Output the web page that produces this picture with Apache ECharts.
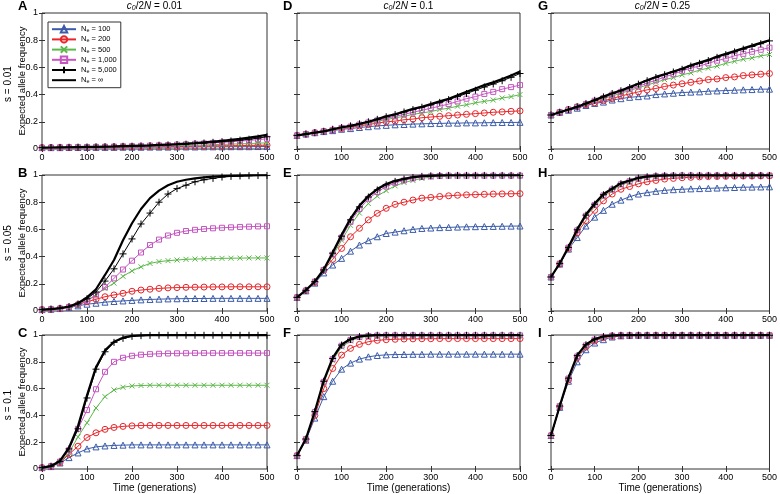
<!DOCTYPE html>
<html><head><meta charset="utf-8">
<script src="https://cdn.jsdelivr.net/npm/echarts@6/dist/echarts.min.js"></script>
<style>html,body{margin:0;padding:0;background:#fff}#c{width:780px;height:494px}</style>
</head><body><div id="c"></div>
<script>
// ---------- data ----------
const gens = [0,20,40,60,80,100,120,140,160,180,200,220,240,260,280,300,320,340,360,380,400,420,440,460,480,500];
const neLabels = ['100','200','500','1,000','5,000','\u221e'];
const seriesNames = ['Ne = 100','Ne = 200','Ne = 500','Ne = 1,000','Ne = 5,000','Ne = inf'];
const colParams = ['0.01','0.1','0.25'];
const rowParams = ['s = 0.01','s = 0.05','s = 0.1'];
const panelLetters = ['A','B','C','D','E','F','G','H','I'];
const xTicks = [0,100,200,300,400,500];
const yTicks = [0,0.2,0.4,0.6,0.8,1];

// Panel A: s=0.01, c0/2N=0.01
const A100 = [.010,.010,.010,.011,.011,.011,.012,.012,.012,.013,.013,.013,.014,.014,.014,.015,.015,.015,.016,.016,.016,.017,.017,.017,.018,.018];
const A200 = [.010,.010,.011,.011,.012,.012,.013,.014,.014,.015,.016,.016,.017,.018,.019,.019,.020,.021,.022,.023,.023,.024,.025,.026,.027,.028];
const A500 = [.010,.011,.012,.012,.013,.014,.015,.016,.017,.018,.019,.020,.021,.022,.023,.025,.026,.028,.030,.032,.034,.036,.038,.040,.043,.045];
const A1k  = [.010,.011,.012,.013,.014,.015,.016,.017,.018,.020,.021,.023,.025,.027,.029,.032,.035,.038,.041,.045,.049,.053,.058,.063,.069,.075];
const A5k  = [.010,.011,.012,.013,.014,.015,.016,.017,.018,.020,.021,.023,.025,.028,.030,.033,.036,.040,.044,.049,.054,.059,.065,.072,.080,.090];
const Ainf = [.010,.011,.012,.013,.014,.015,.016,.018,.019,.021,.023,.025,.027,.030,.033,.036,.040,.044,.049,.054,.060,.067,.074,.083,.093,.105];
// Panel B: s=0.05, c0/2N=0.01
const B100 = [.010,.013,.018,.026,.038,.050,.057,.065,.070,.074,.078,.082,.085,.087,.089,.090,.091,.092,.092,.093,.093,.093,.093,.093,.093,.093];
const B200 = [.010,.013,.018,.030,.048,.068,.086,.105,.118,.130,.145,.154,.160,.166,.170,.172,.174,.175,.176,.177,.177,.178,.178,.178,.178,.178];
const B500 = [.010,.013,.018,.026,.045,.080,.120,.165,.205,.255,.295,.325,.350,.363,.370,.375,.380,.382,.384,.386,.387,.388,.389,.390,.390,.390];
const B1k  = [.010,.013,.018,.028,.045,.075,.115,.175,.240,.305,.370,.430,.485,.525,.555,.575,.588,.597,.603,.608,.612,.615,.618,.620,.622,.623];
const B5k  = [.010,.014,.020,.031,.052,.090,.140,.220,.310,.420,.530,.640,.720,.800,.860,.900,.925,.950,.965,.975,.985,.990,.993,.995,.996,.997];
const Binf = [.010,.014,.021,.033,.058,.100,.160,.265,.375,.520,.645,.750,.830,.885,.925,.950,.965,.975,.983,.988,.992,.994,.996,.997,.998,.998];
// Panel C: s=0.1, c0/2N=0.01
const C100 = [.010,.018,.045,.085,.120,.150,.165,.172,.176,.178,.180,.180,.180,.180,.180,.180,.180,.180,.180,.180,.180,.180,.180,.180,.180,.180];
const C200 = [.010,.019,.048,.110,.170,.235,.270,.296,.310,.318,.322,.325,.325,.325,.325,.325,.325,.325,.325,.325,.325,.325,.325,.325,.325,.325];
const C500 = [.010,.020,.052,.120,.240,.345,.455,.540,.590,.610,.620,.623,.625,.625,.625,.625,.625,.625,.625,.625,.625,.625,.625,.625,.625,.625];
const C1k  = [.010,.020,.055,.140,.300,.440,.595,.725,.800,.830,.845,.853,.857,.860,.862,.863,.864,.865,.865,.865,.865,.865,.865,.865,.865,.865];
const C5k  = [.010,.021,.057,.150,.300,.530,.745,.875,.945,.975,.990,.995,.997,.998,.998,.998,.998,.998,.998,.998,.998,.998,.998,.998,.998,.998];
const Cinf = [.010,.022,.060,.160,.320,.550,.760,.885,.950,.980,.993,.997,.999,.999,.999,.999,.999,.999,.999,.999,.999,.999,.999,.999,.999,.999];
// Panel D: s=0.01, c0/2N=0.1
const D100 = [.100,.110,.120,.128,.135,.145,.150,.158,.164,.170,.174,.178,.180,.183,.185,.187,.188,.190,.190,.192,.192,.193,.194,.195,.195,.196];
const D200 = [.100,.110,.120,.130,.140,.150,.160,.170,.180,.190,.200,.205,.215,.220,.230,.235,.240,.245,.250,.255,.260,.265,.270,.273,.277,.280];
const D500 = [.100,.110,.120,.130,.140,.155,.165,.175,.190,.205,.215,.230,.240,.255,.265,.275,.290,.300,.315,.325,.340,.350,.360,.375,.385,.400];
const D1k  = [.100,.110,.120,.130,.140,.155,.165,.180,.195,.210,.225,.240,.255,.270,.285,.300,.315,.330,.350,.370,.385,.405,.420,.440,.455,.470];
const D5k  = [.100,.110,.120,.130,.145,.158,.170,.185,.200,.218,.237,.253,.272,.290,.307,.325,.343,.363,.385,.408,.432,.456,.478,.502,.527,.555];
const Dinf = [.100,.110,.120,.130,.145,.160,.170,.185,.200,.220,.240,.255,.275,.295,.310,.330,.350,.370,.395,.420,.445,.470,.490,.515,.540,.570];
// Panel E: s=0.05, c0/2N=0.1
const E100 = [.100,.148,.205,.280,.338,.387,.440,.485,.517,.546,.570,.580,.590,.600,.607,.610,.613,.615,.617,.619,.620,.621,.622,.623,.624,.625];
const E200 = [.100,.150,.210,.300,.380,.460,.546,.608,.670,.718,.755,.784,.800,.816,.830,.835,.842,.847,.851,.854,.856,.858,.860,.861,.862,.863];
const E500 = [.100,.150,.215,.300,.405,.520,.630,.720,.790,.845,.885,.920,.945,.960,.975,.985,.990,.992,.993,.994,.994,.994,.995,.995,.995,.995];
const E1k  = [.100,.150,.216,.302,.415,.540,.655,.750,.825,.875,.915,.942,.960,.975,.985,.990,.993,.995,.995,.995,.995,.995,.995,.995,.995,.995];
const E5k  = [.100,.152,.216,.302,.425,.550,.670,.765,.838,.890,.928,.953,.970,.982,.990,.994,.996,.997,.997,.997,.997,.997,.997,.997,.997,.997];
const Einf = [.100,.154,.217,.305,.430,.560,.680,.775,.845,.897,.934,.958,.972,.985,.992,.996,.997,.998,.998,.998,.998,.998,.998,.998,.998,.998];
// Panel F: s=0.1, c0/2N=0.1
const F100 = [.100,.215,.380,.540,.655,.745,.790,.820,.837,.847,.852,.854,.855,.856,.856,.857,.857,.857,.857,.857,.857,.857,.857,.857,.857,.857];
const F200 = [.100,.220,.400,.600,.750,.850,.900,.930,.950,.960,.965,.968,.970,.971,.972,.972,.973,.973,.973,.973,.973,.973,.973,.973,.973,.973];
const F500 = [.100,.222,.420,.640,.810,.910,.955,.980,.990,.993,.994,.995,.995,.995,.995,.995,.995,.995,.995,.995,.995,.995,.995,.995,.995,.995];
const F1k  = [.100,.223,.425,.650,.820,.920,.963,.985,.993,.996,.997,.997,.997,.997,.997,.997,.997,.997,.997,.997,.997,.997,.997,.997,.997,.997];
const F5k  = [.100,.224,.428,.655,.825,.925,.967,.988,.995,.998,.998,.998,.998,.998,.998,.998,.998,.998,.998,.998,.998,.998,.998,.998,.998,.998];
const Finf = [.100,.225,.430,.660,.830,.930,.970,.990,.997,.999,.999,.999,.999,.999,.999,.999,.999,.999,.999,.999,.999,.999,.999,.999,.999,.999];
// Panel G: s=0.01, c0/2N=0.25
const G100 = [.250,.270,.285,.300,.320,.335,.345,.360,.370,.380,.385,.390,.400,.405,.410,.415,.418,.420,.425,.427,.430,.432,.435,.437,.440,.440];
const G200 = [.250,.270,.290,.310,.325,.340,.355,.370,.390,.405,.420,.435,.445,.460,.470,.480,.490,.500,.510,.515,.525,.530,.540,.545,.550,.555];
const G500 = [.250,.270,.290,.310,.330,.350,.370,.390,.410,.430,.450,.470,.490,.510,.525,.545,.560,.580,.595,.610,.630,.645,.660,.670,.685,.695];
const G1k  = [.250,.270,.290,.310,.330,.355,.375,.400,.420,.440,.460,.485,.505,.530,.550,.575,.595,.610,.630,.650,.665,.685,.700,.715,.730,.745];
const G5k  = [.250,.270,.290,.310,.334,.358,.383,.408,.428,.452,.477,.502,.526,.546,.566,.586,.610,.630,.650,.674,.694,.714,.734,.754,.774,.795];
const Ginf = [.250,.270,.290,.310,.335,.360,.385,.410,.430,.455,.480,.505,.530,.550,.570,.590,.615,.635,.655,.680,.700,.720,.740,.760,.780,.800];
// Panel H: s=0.05, c0/2N=0.25
const H100 = [.250,.345,.455,.540,.625,.690,.740,.785,.815,.840,.860,.870,.880,.887,.892,.895,.898,.900,.902,.904,.906,.908,.910,.911,.912,.913];
const H200 = [.250,.345,.460,.575,.665,.740,.810,.860,.895,.915,.935,.950,.960,.970,.975,.980,.983,.986,.988,.989,.990,.991,.992,.992,.993,.993];
const H500 = [.250,.348,.464,.588,.693,.772,.842,.886,.925,.948,.969,.981,.988,.992,.994,.995,.995,.995,.995,.995,.995,.995,.995,.995,.995,.995];
const H1k  = [.250,.349,.466,.593,.700,.780,.850,.893,.932,.954,.974,.985,.991,.994,.995,.996,.996,.996,.996,.996,.996,.996,.996,.996,.996,.996];
const H5k  = [.250,.350,.468,.597,.705,.785,.855,.897,.936,.957,.977,.987,.993,.995,.996,.997,.997,.997,.997,.997,.997,.997,.997,.997,.997,.997];
const Hinf = [.250,.350,.470,.600,.710,.790,.860,.900,.940,.960,.980,.990,.995,.997,.998,.998,.998,.998,.998,.998,.998,.998,.998,.998,.998,.998];
// Panel I: s=0.1, c0/2N=0.25
const I100 = [.250,.460,.655,.800,.890,.940,.965,.985,.994,.997,.998,.998,.998,.998,.998,.998,.998,.998,.998,.998,.998,.998,.998,.998,.998,.998];
const I200 = [.250,.465,.665,.830,.910,.955,.980,.990,.995,.997,.998,.998,.998,.998,.998,.998,.998,.998,.998,.998,.998,.998,.998,.998,.998,.998];
const I500 = [.250,.468,.672,.835,.918,.960,.984,.994,.997,.998,.998,.998,.998,.998,.998,.998,.998,.998,.998,.998,.998,.998,.998,.998,.998,.998];
const I1k  = [.250,.469,.675,.840,.922,.965,.986,.995,.998,.998,.998,.998,.998,.998,.998,.998,.998,.998,.998,.998,.998,.998,.998,.998,.998,.998];
const I5k  = [.250,.470,.678,.846,.927,.968,.988,.996,.998,.998,.998,.998,.998,.998,.998,.998,.998,.998,.998,.998,.998,.998,.998,.998,.998,.998];
const Iinf = [.250,.470,.680,.850,.930,.970,.990,.997,.999,.999,.999,.999,.999,.999,.999,.999,.999,.999,.999,.999,.999,.999,.999,.999,.999,.999];

const panels = [
  [A100,A200,A500,A1k,A5k,Ainf],[B100,B200,B500,B1k,B5k,Binf],[C100,C200,C500,C1k,C5k,Cinf],
  [D100,D200,D500,D1k,D5k,Dinf],[E100,E200,E500,E1k,E5k,Einf],[F100,F200,F500,F1k,F5k,Finf],
  [G100,G200,G500,G1k,G5k,Ginf],[H100,H200,H500,H1k,H5k,Hinf],[I100,I200,I500,I1k,I5k,Iinf]
];

// ---------- layout & style ----------
const FONT = 'Liberation Sans, Arial, Helvetica, sans-serif';
const COL_L = [42, 297, 551], COL_W = [225, 223, 223];
const ROW_T = [13, 175, 335], PH = 136;
const AX = '#333';
const STY = [
  {color:'#3a5ba9', symbol:'triangle', size:6, width:1},
  {color:'#e8262a', symbol:'circle', size:6, width:1},
  {color:'#5cb84a', symbol:'path://M0,0L10,10M10,0L0,10', size:5, width:1},
  {color:'#c555c0', symbol:'rect', size:5, width:1},
  {color:'#000000', symbol:'path://M5,0L5,10M0,5L10,5', size:7, width:1},
  {color:'#000000', symbol:'circle', size:1, width:2.2, hide:true}
];

const grids = [], xAxes = [], yAxes = [], series = [], titles = [];
for (let p = 0; p < 9; p++) {
  const c = Math.floor(p / 3), r = p % 3;
  grids.push({left: COL_L[c], top: ROW_T[r], width: COL_W[c], height: PH,
    show: true, borderColor: AX, borderWidth: 1, backgroundColor: 'transparent'});
  const xBase = {gridIndex: p, type: 'value', min: 0, max: 500, interval: 100,
    axisLine: {show: false}, splitLine: {show: false},
    axisTick: {show: true, inside: true, length: 3, lineStyle: {color: AX}}};
  xAxes.push(Object.assign({}, xBase, {position: 'bottom',
    axisLabel: {show: true, fontSize: 9, margin: 4, color: '#000', fontFamily: FONT},
    name: r === 2 ? 'Time (generations)' : '', nameLocation: 'middle', nameGap: 14,
    nameMoveOverlap: false,
    nameTextStyle: {fontSize: 10, color: '#000', fontFamily: FONT}}));
  xAxes.push(Object.assign({}, xBase, {position: 'top', axisLabel: {show: false}}));
  const yBase = {gridIndex: p, type: 'value', min: 0, max: 1, interval: 0.2,
    axisLine: {show: false}, splitLine: {show: false},
    axisTick: {show: true, inside: true, length: 3, lineStyle: {color: AX}}};
  yAxes.push(Object.assign({}, yBase, {position: 'left',
    axisLabel: {show: c === 0, fontSize: 9, margin: 4, color: '#000', fontFamily: FONT},
    name: c === 0 ? 'Expected allele frequency' : '', nameLocation: 'middle', nameGap: 15,
    nameMoveOverlap: false,
    nameTextStyle: {fontSize: 9.5, color: '#000', fontFamily: FONT}}));
  yAxes.push(Object.assign({}, yBase, {position: 'right', axisLabel: {show: false}}));
  for (let k = 0; k < 6; k++) {
    const st = STY[k], arr = panels[p][k];
    series.push({
      type: 'line', name: seriesNames[k], xAxisIndex: p * 2, yAxisIndex: p * 2,
      data: gens.map((g, i) => [g, arr[i]]),
      symbol: st.symbol, symbolSize: st.size, showSymbol: !st.hide,
      lineStyle: {color: st.color, width: st.width},
      itemStyle: {color: 'rgba(255,255,255,0)', borderColor: st.color, borderWidth: 1},
      emphasis: {disabled: true}, animation: false, silent: true, z: 2 + k
    });
  }
  titles.push({text: panelLetters[p], left: [18, 283, 538][c], top: [0, 167, 327][r],
    textStyle: {fontSize: 13, fontWeight: 'bold', color: '#000', fontFamily: FONT}, padding: 0});
}
for (let c = 0; c < 3; c++) {
  titles.push({
    text: '{i|c}{s|0}{n|/2}{i|N}{n| = ' + colParams[c] + '}',
    left: COL_L[c] + COL_W[c] / 2, top: 1, textAlign: 'center', padding: 0,
    textStyle: {fontSize: 10, fontWeight: 'normal', color: '#000', fontFamily: FONT, rich: {
      i: {fontSize: 10, fontWeight: 'normal', fontStyle: 'italic', fontFamily: FONT},
      n: {fontSize: 10, fontWeight: 'normal', fontFamily: FONT},
      s: {fontSize: 7, fontWeight: 'normal', fontStyle: 'italic', fontFamily: FONT, padding: [4, 0, 0, 0]}
    }}
  });
}
const graphic = rowParams.map((t, r) => ({
  type: 'text', x: 8, y: [84, 243, 405][r], rotation: Math.PI / 2,
  style: {text: t, fontSize: 10, fontFamily: FONT, fill: '#000',
    align: 'center', verticalAlign: 'middle', textAlign: 'center', textVerticalAlign: 'middle'}
}));

const legendData = seriesNames.map((n, k) => k === 5
  ? {name: n, itemStyle: {opacity: 0}}
  : {name: n});

const chart = echarts.init(document.getElementById('c'), null, {renderer: 'canvas'});
chart.setOption({
  backgroundColor: '#fff',
  animation: false,
  title: titles,
  grid: grids, xAxis: xAxes, yAxis: yAxes, series: series, graphic: graphic,
  legend: {
    data: legendData, left: 48, top: 22, orient: 'vertical',
    backgroundColor: '#fff', borderColor: AX, borderWidth: 1,
    padding: [3, 4, 3, 3], itemGap: 1.5, itemWidth: 24, itemHeight: 8,
    selectedMode: false,
    formatter: function (name) {
      const k = seriesNames.indexOf(name);
      return '{n|N}{e|e}{n| = ' + neLabels[k] + '}';
    },
    textStyle: {fontSize: 7.5, color: '#000', fontFamily: FONT, rich: {
      n: {fontSize: 7.5, fontFamily: FONT},
      e: {fontSize: 5.5, fontFamily: FONT, padding: [3, 0, 0, 0]}
    }}
  }
});
</script></body></html>
